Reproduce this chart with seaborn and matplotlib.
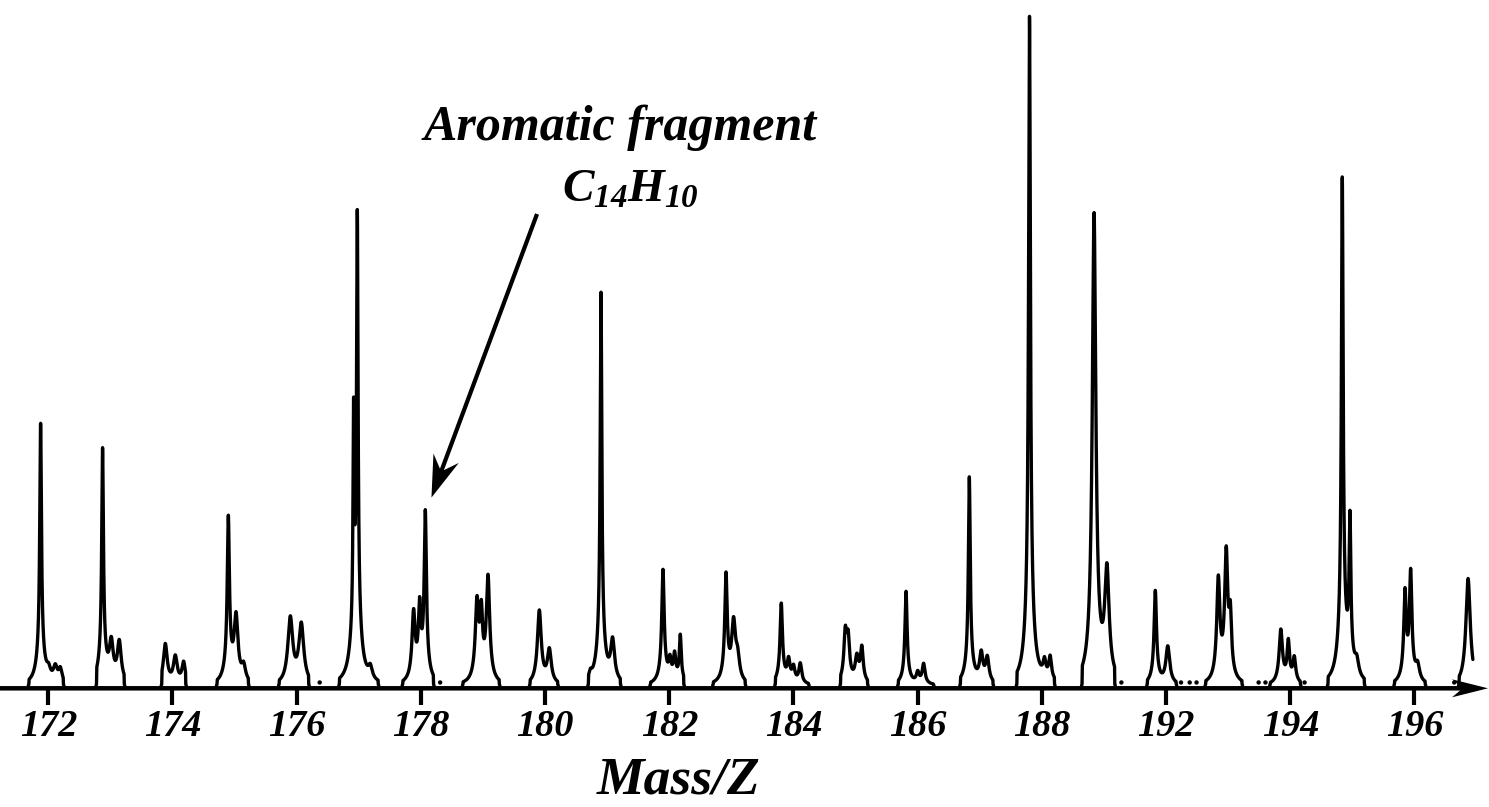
import numpy as np
import pandas as pd
import matplotlib
matplotlib.use("Agg")
import matplotlib.pyplot as plt
import seaborn as sns
from matplotlib.patches import Polygon
from matplotlib.transforms import IdentityTransform

# ---------------------------------------------------------------------------
# Spectrum data
# ---------------------------------------------------------------------------
# Each cluster of peaks is recorded over a short m/z window
group_start = [171.69, 172.78, 173.83, 174.72, 175.72, 176.69, 177.71, 178.68,
               179.76, 180.70, 181.70, 182.71, 183.71, 184.76, 185.69, 186.69,
               187.60, 188.65, 189.70, 190.64, 191.68, 192.61, 193.68, 194.72]
group_end = [172.24, 173.22, 174.21, 175.22, 176.19, 177.31, 178.20, 179.26,
             180.20, 181.21, 182.23, 183.22, 184.24, 185.19, 186.25, 187.21,
             188.20, 189.17, 190.16, 191.22, 192.16, 193.19, 194.17, 194.94]
# the last window is cut off before its trace returns to the baseline
group_closed_end = [True] * 23 + [False]

# Individual peaks: centre (m/z), relative intensity (%), half width (m/z)
peak_mz = [171.876, 172.005, 172.113, 172.193,
           172.874, 173.014, 173.143,
           173.884, 174.045, 174.179,
           174.899, 175.023, 175.145,
           175.897, 176.074,
           176.916, 176.976, 177.185,
           177.882, 177.979, 178.071,
           178.903, 178.973, 179.081,
           179.907, 180.068,
           180.730, 180.900, 181.087,
           181.898, 182.010, 182.085, 182.177,
           182.913, 183.035, 183.100,
           183.803, 183.921, 184.000, 184.109,
           184.834, 184.880, 185.020, 185.100,
           185.812, 186.000, 186.095,
           186.831, 187.023, 187.121,
           187.800, 188.041, 188.132,
           188.840, 189.047,
           189.826, 190.027,
           190.841, 190.968, 191.034,
           191.847, 191.968, 192.064,
           192.837, 192.961, 193.070,
           193.847, 193.938, 194.050,
           194.863]
peak_int = [39.0, 1.4, 2.2, 2.0,
            35.0, 5.5, 6.0,
            6.0, 4.0, 3.2,
            24.5, 9.5, 2.3,
            9.8, 8.8,
            35.0, 67.5, 1.8,
            10.0, 10.0, 25.0,
            11.5, 9.0, 15.5,
            11.0, 5.0,
            1.0, 58.5, 6.0,
            17.0, 2.8, 3.8, 7.0,
            16.0, 8.5, 3.2,
            12.0, 3.2, 2.2, 3.0,
            7.0, 6.0, 3.6, 5.2,
            14.0, 1.6, 3.0,
            31.0, 4.2, 3.7,
            100.0, 2.5, 3.5,
            70.0, 16.0,
            14.0, 5.6,
            15.0, 18.5, 8.5,
            8.0, 6.0, 3.7,
            75.0, 22.5, 2.3,
            13.0, 16.0, 2.3,
            16.0]
peak_hw = [0.016, 0.035, 0.035, 0.03,
           0.016, 0.035, 0.035,
           0.035, 0.035, 0.03,
           0.02, 0.035, 0.035,
           0.045, 0.045,
           0.011, 0.014, 0.035,
           0.028, 0.022, 0.02,
           0.03, 0.022, 0.03,
           0.035, 0.035,
           0.025, 0.015, 0.035,
           0.022, 0.022, 0.022, 0.017,
           0.022, 0.035, 0.035,
           0.022, 0.025, 0.025, 0.025,
           0.025, 0.025, 0.03, 0.025,
           0.02, 0.025, 0.025,
           0.017, 0.03, 0.03,
           0.017, 0.025, 0.025,
           0.032, 0.04,
           0.022, 0.035,
           0.028, 0.028, 0.022,
           0.03, 0.022, 0.025,
           0.016, 0.016, 0.035,
           0.022, 0.022, 0.035,
           0.04]

# Isolated baseline specks
speck_mz = [176.37, 178.31, 189.28, 190.24, 190.38, 190.49, 191.49, 191.60,
            192.23, 194.64]

# Axis ticks (the scale jumps from 188 to 192)
tick_pos = [172, 174, 176, 178, 180, 182, 184, 186, 188, 190, 192, 194]
tick_labels = ["172", "174", "176", "178", "180", "182", "184", "186", "188",
               "192", "194", "196"]

annotation_title = "Aromatic fragment"
annotation_formula = r"$C_{14}H_{10}$"
axis_title = "Mass/Z"

# ---------------------------------------------------------------------------
# Build the profile trace from the peak list
# ---------------------------------------------------------------------------
FOOT_FRACTION = 0.13
FOOT_WIDTH = 0.07


def profile(x, centres, heights, widths):
    y = np.zeros_like(x)
    for c, h, w in zip(centres, heights, widths):
        d2 = (x - c) ** 2
        core = w ** 2 / (w ** 2 + d2)
        foot = FOOT_WIDTH ** 2 / (FOOT_WIDTH ** 2 + d2)
        y += h * ((1 - FOOT_FRACTION) * core + FOOT_FRACTION * foot)
    return y


pk_mz = np.array(peak_mz)
pk_int = np.array(peak_int)
pk_hw = np.array(peak_hw)

frames = []
for gi, (g0, g1, closed) in enumerate(zip(group_start, group_end,
                                          group_closed_end)):
    inside = (pk_mz >= g0) & (pk_mz <= g1)
    x = np.linspace(g0, g1, 600)
    y = profile(x, pk_mz[inside], pk_int[inside], pk_hw[inside])
    # each window opens (and, unless cut off, closes) on the baseline
    x = np.concatenate([[g0 - 0.012, g0 - 0.004], x])
    y = np.concatenate([[0.0, 0.15], y])
    if closed:
        x = np.concatenate([x, [g1 + 0.004, g1 + 0.012]])
        y = np.concatenate([y, [0.15, 0.0]])
    frames.append(pd.DataFrame({"mz": x, "intensity": y, "group": gi}))
spectrum = pd.concat(frames, ignore_index=True)
specks = pd.DataFrame({"mz": speck_mz, "intensity": 0.45})

# ---------------------------------------------------------------------------
# Figure
# ---------------------------------------------------------------------------
sns.set_style("white")
plt.rcParams["mathtext.fontset"] = "custom"
plt.rcParams["mathtext.rm"] = "Liberation Serif:italic:bold"
plt.rcParams["mathtext.it"] = "Liberation Serif:italic:bold"
plt.rcParams["mathtext.bf"] = "Liberation Serif:italic:bold"

serif = dict(family="Liberation Serif", style="italic", weight="bold")

W, H, DPI = 1489, 807, 100
fig = plt.figure(figsize=(W / DPI, H / DPI), dpi=DPI)
axis_y_px = 688.3
ax = fig.add_axes([0, (H - axis_y_px) / H, 1, axis_y_px / H])

px_per_unit = 62.1
x_left = 172 - 48.3 / px_per_unit
x_right = 172 + (W - 48.3) / px_per_unit
ax.set_xlim(x_left, x_right)
ax.set_ylim(-0.42, 102.5)

sns.lineplot(data=spectrum, x="mz", y="intensity", units="group",
             estimator=None, sort=False, color="black", linewidth=2.4,
             legend=False, ax=ax)
for line in ax.get_lines():
    line.set_clip_on(False)
    line.set_solid_joinstyle("round")
    line.set_solid_capstyle("round")
sns.scatterplot(data=specks, x="mz", y="intensity", color="black", s=10,
                marker="o", edgecolor="none", legend=False, ax=ax)

for side in ["top", "right", "left", "bottom"]:
    ax.spines[side].set_visible(False)
ax.set_yticks([])
ax.set_xlabel("")
ax.set_ylabel("")
ax.set_xticks(tick_pos, labels=tick_labels)
ax.tick_params(axis="x", direction="out", length=12.2, width=3.0,
               color="black", pad=3, bottom=True)
for lab in ax.get_xticklabels():
    lab.set_fontfamily("Liberation Serif")
    lab.set_fontstyle("italic")
    lab.set_fontweight("bold")
    lab.set_fontsize(27.5)
    lab.set_color("black")


def stealth_arrow(ax, start, end, shaft, head_len, head_w, notch):
    """Filled arrow with a swept-back head, sized in pixels."""
    p0 = ax.transData.transform(start)
    p1 = ax.transData.transform(end)
    u = (p1 - p0) / np.hypot(*(p1 - p0))
    n = np.array([-u[1], u[0]])
    back = p1 - u * head_len
    neck = p1 - u * (head_len - notch)
    pts = [p0 + n * shaft / 2, neck + n * shaft / 2, back + n * head_w / 2,
           p1, back - n * head_w / 2, neck - n * shaft / 2,
           p0 - n * shaft / 2]
    ax.add_patch(Polygon(pts, closed=True, transform=IdentityTransform(),
                         facecolor="black", edgecolor="none", clip_on=False))


# horizontal axis drawn as an arrow
y_axis = ax.get_ylim()[0]
stealth_arrow(ax, (x_left, y_axis), (172 + (1488 - 48.3) / px_per_unit, y_axis),
              shaft=4.5, head_len=36, head_w=18, notch=8)

# annotation for the aromatic fragment
ax.text(181.21, 81.5, annotation_title, ha="center", va="baseline",
        fontsize=36, color="black", **serif)
ax.text(181.37, 72.3, annotation_formula, ha="center", va="baseline",
        fontsize=34, color="black")
stealth_arrow(ax, (179.87, 70.5), (178.17, 28.1),
              shaft=4.2, head_len=42, head_w=27, notch=12)

fig.text(679 / W, 2 / H, axis_title, ha="center", va="bottom",
         fontsize=38.5, color="black", **serif)

fig.savefig("out.png", dpi=DPI, facecolor="white")
